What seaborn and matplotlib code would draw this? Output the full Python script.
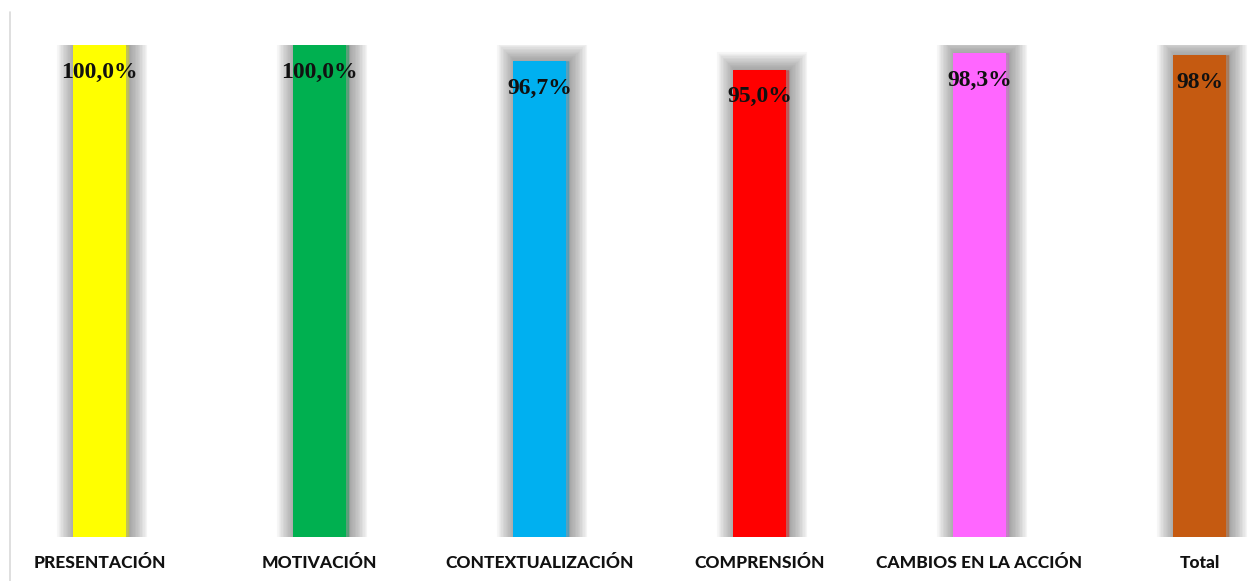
import matplotlib
matplotlib.use("Agg")
import matplotlib.pyplot as plt
import matplotlib.patheffects as pe
from matplotlib.lines import Line2D
import seaborn as sns
import pandas as pd

categories = ["PRESENTACIÓN", "MOTIVACIÓN", "CONTEXTUALIZACIÓN", "COMPRENSIÓN",
              "CAMBIOS EN LA ACCIÓN", "Total"]
values = [100.0, 100.0, 96.7, 95.0, 98.3, 98.0]
value_labels = ["100,0%", "100,0%", "96,7%", "95,0%", "98,3%", "98%"]
colors = ["#FFFF00", "#00B050", "#00B0F0", "#FF0000", "#FF66FF", "#C55A11"]

sns.set_theme(style="white")
plt.rcParams['font.family'] = ['Lato', 'DejaVu Sans']

W, H = 1249, 581
fig = plt.figure(figsize=(W / 100, H / 100), dpi=100)
ax = fig.add_axes([10 / W, (H - 537) / H, (W - 10) / W, (537 - 45) / H])

df = pd.DataFrame({"cat": categories, "val": values})
sns.barplot(data=df, x="cat", y="val", hue="cat", palette=colors, legend=False,
            width=0.245, saturation=1, ax=ax, linewidth=0)

shadow = [pe.Stroke(linewidth=lw, foreground="#606060", alpha=0.055, offset=(1.5, 0))
          for lw in range(26, 1, -2)] + [pe.Normal()]
for p in ax.patches:
    p.set_path_effects(shadow)

for i, (v, lab) in enumerate(zip(values, value_labels)):
    ax.annotate(lab, xy=(i, v), xytext=(0, -12), textcoords="offset points",
                ha="center", va="top", fontsize=17, fontweight="bold",
                family="Liberation Serif", color="#111111")

ax.set_xlim(-0.407, 5.225)
ax.set_ylim(0, 100)
ax.set_xlabel("")
ax.set_ylabel("")
ax.set_yticks([])
ax.tick_params(axis="x", length=0, pad=13)
for t in ax.get_xticklabels():
    t.set_fontweight("black")
    t.set_fontsize(12.5)
    t.set_color("#111111")
for s in ax.spines.values():
    s.set_visible(False)

fig.add_artist(Line2D([10 / W, 10 / W], [0, (H - 12) / H], color="#d9d9d9",
                      linewidth=1.2, transform=fig.transFigure))

fig.savefig("out.png", dpi=100, facecolor="white")
